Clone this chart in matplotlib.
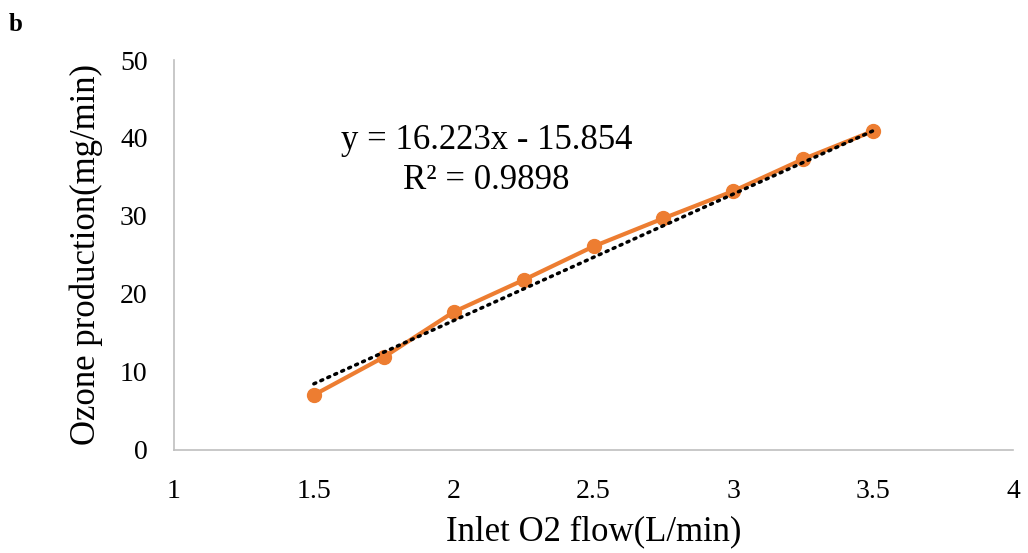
import matplotlib
matplotlib.use("Agg")
import matplotlib.pyplot as plt
import numpy as np

plt.rcParams['font.family'] = ['Liberation Serif', 'DejaVu Serif']

flow = [1.5, 1.75, 2.0, 2.25, 2.5, 2.75, 3.0, 3.25, 3.5]
ozone = [7.05, 11.9, 17.7, 21.8, 26.1, 29.7, 33.2, 37.3, 40.9]
slope, intercept = 16.223, -15.854
x_ticks = [1, 1.5, 2, 2.5, 3, 3.5, 4]
x_tick_labels = ['1', '1.5', '2', '2.5', '3', '3.5', '4']
y_ticks = [0, 10, 20, 30, 40, 50]

fig = plt.figure(figsize=(10.28, 5.53), dpi=100)
ax = fig.add_axes([0.1693, 0.1863, 0.8161, 0.7052])

ax.plot(flow, ozone, color='#ED7D31', lw=3, marker='o', ms=10, zorder=3, solid_capstyle='round')
tx = np.array([flow[0], flow[-1]])
ax.plot(tx, slope * tx + intercept, color='black', lw=2.5, linestyle=(0, (0.6, 1.6)),
        dash_capstyle='round', zorder=4)

ax.set_xlim(1, 4)
ax.set_ylim(0, 50)
ax.set_xticks(x_ticks)
ax.set_xticklabels(x_tick_labels)
ax.set_yticks(y_ticks)
ax.tick_params(length=0, labelsize=20)
ax.tick_params(axis='x', pad=21)
ax.tick_params(axis='y', pad=19)
for s in ['top', 'right']:
    ax.spines[s].set_visible(False)
for s in ['left', 'bottom']:
    ax.spines[s].set_color('#BFBFBF')
    ax.spines[s].set_linewidth(1.2)

ax.set_xlabel('Inlet O2 flow(L/min)', fontsize=25, labelpad=8)
ax.set_ylabel('Ozone production(mg/min)', fontsize=25, labelpad=12)

ax.text(2.118, 39.7, 'y = 16.223x - 15.854', fontsize=25, ha='center', va='center')
ax.text(2.118, 34.6, 'R² = 0.9898', fontsize=25, ha='center', va='center')

fig.text(0.008, 0.955, 'b', fontsize=18, fontweight='bold', ha='left', va='center')

fig.savefig('out.png', dpi=100, facecolor='white')
